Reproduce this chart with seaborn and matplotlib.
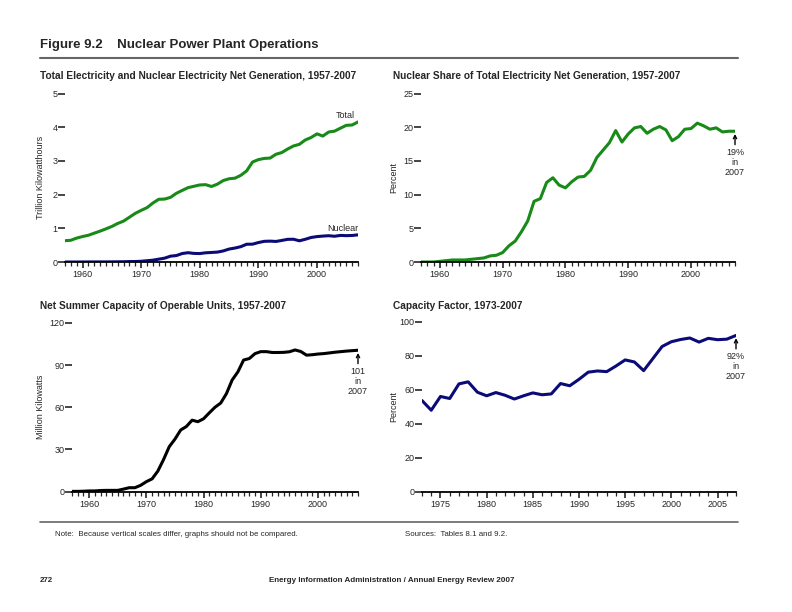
import numpy as np
import pandas as pd
import seaborn as sns
import matplotlib.pyplot as plt
from matplotlib.ticker import MultipleLocator

sns.set_style("white")
plt.rcParams['font.family'] = ['Liberation Sans', 'DejaVu Sans']

GREEN = "#178a17"
NAVY = "#0b0b78"

years = list(range(1957, 2008))
total_gen = [0.632, 0.645, 0.710, 0.756, 0.794, 0.856, 0.917, 0.984, 1.055, 1.144,
             1.214, 1.329, 1.445, 1.532, 1.613, 1.750, 1.861, 1.867, 1.918, 2.038,
             2.124, 2.206, 2.247, 2.286, 2.295, 2.241, 2.310, 2.416, 2.470, 2.487,
             2.572, 2.704, 2.967, 3.038, 3.073, 3.084, 3.197, 3.248, 3.353, 3.444,
             3.492, 3.620, 3.695, 3.802, 3.737, 3.858, 3.883, 3.971, 4.055, 4.065,
             4.157]
nuclear_gen = [0.000, 0.000, 0.000, 0.001, 0.002, 0.002, 0.003, 0.003, 0.004, 0.006,
               0.008, 0.013, 0.014, 0.022, 0.038, 0.054, 0.084, 0.114, 0.173, 0.191,
               0.251, 0.276, 0.255, 0.251, 0.273, 0.283, 0.294, 0.328, 0.384, 0.414,
               0.455, 0.527, 0.529, 0.577, 0.613, 0.619, 0.610, 0.640, 0.673, 0.675,
               0.629, 0.674, 0.728, 0.754, 0.769, 0.780, 0.764, 0.789, 0.782, 0.787,
               0.806]
nuclear_share = [0.0, 0.0, 0.0, 0.1, 0.2, 0.3, 0.3, 0.3, 0.4, 0.5,
                 0.6, 0.9, 1.0, 1.4, 2.4, 3.1, 4.5, 6.1, 9.0, 9.4,
                 11.8, 12.5, 11.4, 11.0, 11.9, 12.6, 12.7, 13.6, 15.5, 16.6,
                 17.7, 19.5, 17.8, 19.0, 19.9, 20.1, 19.1, 19.7, 20.1, 19.6,
                 18.0, 18.6, 19.7, 19.8, 20.6, 20.2, 19.7, 19.9, 19.3, 19.4,
                 19.4]
capacity = [0.1, 0.1, 0.2, 0.4, 0.4, 0.7, 0.8, 0.8, 0.8, 1.7,
            2.7, 2.7, 4.4, 7.0, 9.0, 14.5, 22.7, 31.9, 37.3, 43.8,
            46.3, 50.8, 49.7, 51.8, 56.0, 60.0, 63.0, 69.7, 79.4, 85.2,
            93.6, 94.7, 98.2, 99.6, 99.6, 99.0, 99.0, 99.1, 99.5, 100.8,
            99.7, 97.1, 97.4, 97.9, 98.2, 98.7, 99.2, 99.6, 100.0, 100.3,
            100.6]
cf_years = list(range(1973, 2008))
capacity_factor = [53.5, 47.8, 55.9, 54.7, 63.3, 64.5, 58.4, 56.3, 58.2, 56.6,
                   54.4, 56.3, 58.0, 56.9, 57.4, 63.5, 62.2, 66.0, 70.2, 70.9,
                   70.5, 73.8, 77.4, 76.2, 71.1, 78.2, 85.3, 88.1, 89.4, 90.3,
                   87.9, 90.1, 89.3, 89.6, 91.8]

gen = pd.DataFrame({"year": years, "Total": total_gen, "Nuclear": nuclear_gen})
share = pd.DataFrame({"year": years, "share": nuclear_share})
cap = pd.DataFrame({"year": years, "capacity": capacity})
cf = pd.DataFrame({"year": cf_years, "cf": capacity_factor})

fig = plt.figure(figsize=(7.92, 6.12), dpi=100)
W, H = 792.0, 612.0


def box(x0, x1, ytop, ybot):
    return [x0 / W, 1 - ybot / H, (x1 - x0) / W, (ybot - ytop) / H]


ax1 = fig.add_axes(box(65, 358, 93.5, 262))
ax2 = fig.add_axes(box(421, 735, 93.5, 262))
ax3 = fig.add_axes(box(72, 358, 323, 491.5))
ax4 = fig.add_axes(box(422, 736, 321.5, 491.5))

sns.lineplot(data=gen, x="year", y="Total", ax=ax1, color=GREEN, lw=2.2)
sns.lineplot(data=gen, x="year", y="Nuclear", ax=ax1, color=NAVY, lw=2.2)
sns.lineplot(data=share, x="year", y="share", ax=ax2, color=GREEN, lw=2.2)
sns.lineplot(data=cap, x="year", y="capacity", ax=ax3, color="black", lw=2.2)
sns.lineplot(data=cf, x="year", y="cf", ax=ax4, color=NAVY, lw=2.2)


def style(ax, xlim, ymax, ystep, ylabel, labelx):
    ax.set_xlim(*xlim)
    ax.set_ylim(0, ymax)
    ax.yaxis.set_major_locator(MultipleLocator(ystep))
    ax.xaxis.set_minor_locator(MultipleLocator(1))
    for s in ["top", "right", "left"]:
        ax.spines[s].set_visible(False)
    ax.spines["bottom"].set_linewidth(1.3)
    ax.spines["bottom"].set_color("black")
    ax.tick_params(axis="y", which="major", direction="out", length=5, width=1.2,
                   labelsize=6.5, pad=0.5, left=True)
    ax.tick_params(axis="x", which="major", direction="out", length=4, width=1.2,
                   labelsize=6.5, pad=2, bottom=True)
    ax.tick_params(axis="x", which="minor", direction="out", length=3, width=0.9,
                   bottom=True)
    ax.set_xlabel("")
    ax.set_ylabel(ylabel, fontsize=6.5)
    ax.yaxis.set_label_coords(labelx, 0.5)
    ax.patch.set_alpha(0)
    ax.grid(False)


style(ax1, (1957, 2007), 5, 1, "Trillion Kilowatthours", -0.068)
style(ax2, (1957, 2007), 25, 5, "Percent", -0.073)
style(ax3, (1957, 2007), 120, 30, "Million Kilowatts", -0.094)
style(ax4, (1973, 2007), 100, 20, "Percent", -0.076)
for ax in (ax1, ax2, ax3):
    ax.set_xticks([1960, 1970, 1980, 1990, 2000])
ax4.set_xticks([1975, 1980, 1985, 1990, 1995, 2000, 2005])

ax1.text(2006.5, total_gen[-1] + 0.06, "Total", fontsize=6.5, ha="right", va="bottom")
ax1.text(2007, nuclear_gen[-1] + 0.04, "Nuclear", fontsize=6.5, ha="right", va="bottom")

arrow = dict(arrowstyle="->,head_length=0.35,head_width=0.18", color="black", lw=1.0,
             shrinkA=0, shrinkB=2)
for ax, txt, yval in [(ax2, "19%\nin\n2007", nuclear_share[-1]),
                      (ax3, "101\nin\n2007", capacity[-1]),
                      (ax4, "92%\nin\n2007", capacity_factor[-1])]:
    ax.annotate(txt, xy=(2007, yval), xytext=(0, -12),
                textcoords="offset points", ha="center", va="top", fontsize=6.5,
                arrowprops=arrow, linespacing=1.15, annotation_clip=False)

# page text
fig.text(40 / W, 1 - 45 / H, "Figure 9.2    Nuclear Power Plant Operations",
         fontsize=9.5, fontweight="bold", va="center")
fig.add_artist(plt.Line2D([40 / W, 738 / W], [1 - 58 / H, 1 - 58 / H], color="#666666", lw=1.5))
fig.text(40 / W, 1 - 76 / H, "Total Electricity and Nuclear Electricity Net Generation, 1957-2007",
         fontsize=7.3, fontweight="bold", va="center")
fig.text(393 / W, 1 - 76 / H, "Nuclear Share of Total Electricity Net Generation, 1957-2007",
         fontsize=7.3, fontweight="bold", va="center")
fig.text(40 / W, 1 - 306 / H, "Net Summer Capacity of Operable Units, 1957-2007",
         fontsize=7.3, fontweight="bold", va="center")
fig.text(393 / W, 1 - 306 / H, "Capacity Factor, 1973-2007",
         fontsize=7.3, fontweight="bold", va="center")
fig.add_artist(plt.Line2D([40 / W, 738 / W], [1 - 522 / H, 1 - 522 / H], color="#666666", lw=1.2))
fig.text(55 / W, 1 - 534 / H, "Note:  Because vertical scales differ, graphs should not be compared.",
         fontsize=5.7, va="center")
fig.text(405 / W, 1 - 534 / H, "Sources:  Tables 8.1 and 9.2.", fontsize=5.7, va="center")
fig.text(40 / W, 1 - 581 / H, "272", fontsize=5.7, fontweight="bold", va="center")
fig.text(392 / W, 1 - 581 / H, "Energy Information Administration / Annual Energy Review 2007",
         fontsize=5.8, fontweight="bold", va="center", ha="center")

fig.savefig("out.png", dpi=100)
